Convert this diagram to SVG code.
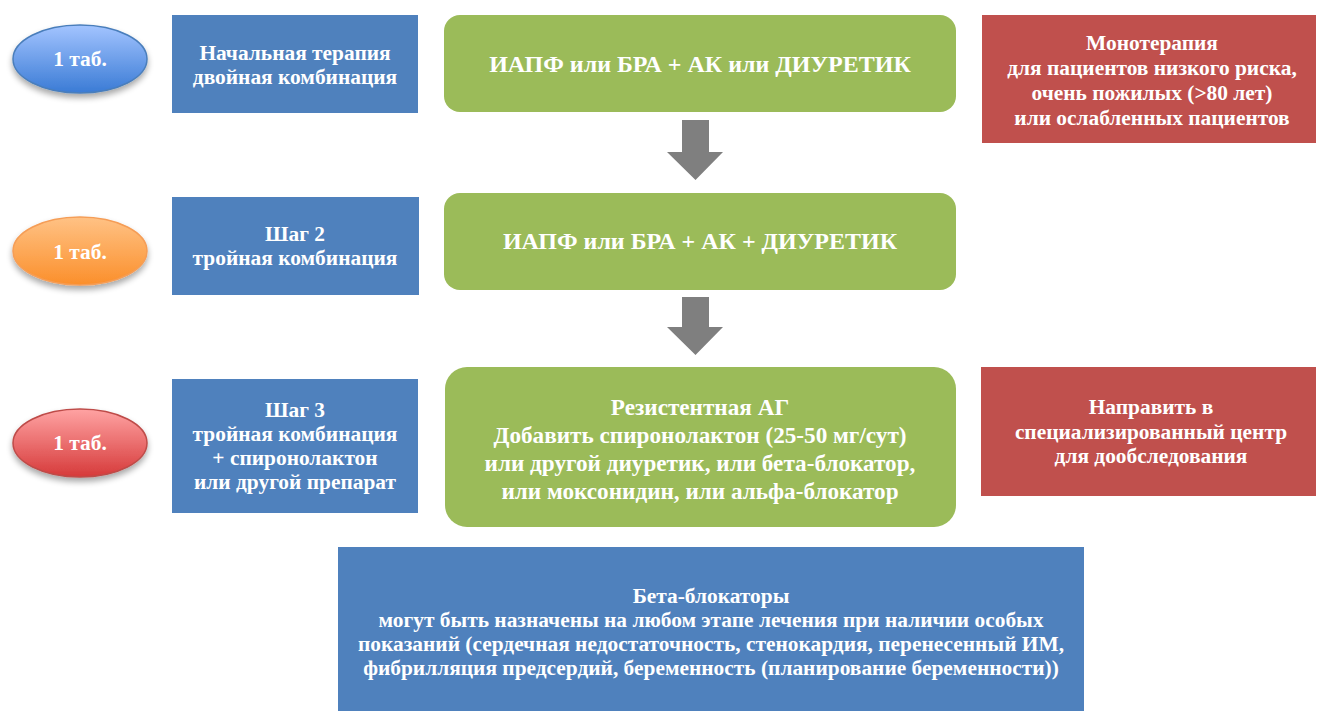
<svg xmlns="http://www.w3.org/2000/svg" width="1317" height="711" viewBox="0 0 1317 711">
<style>
.t{font-family:"Liberation Serif","Times New Roman",serif;font-weight:bold;fill:#ffffff;text-anchor:middle;font-size:21.4px}
.tg{font-size:24px}
.tr{font-size:23.2px}
.blue{fill:#4f81bd}
.green{fill:#9bbb59}
.red{fill:#c0504d}
.arr{fill:#7f7f7f}
</style>
<defs>
<linearGradient id="gB" x1="0" y1="0" x2="0" y2="1"><stop offset="0" stop-color="#a3c4ff"/><stop offset="1" stop-color="#3a7bd5"/></linearGradient>
<linearGradient id="gO" x1="0" y1="0" x2="0" y2="1"><stop offset="0" stop-color="#ffc285"/><stop offset="1" stop-color="#fb8f2b"/></linearGradient>
<linearGradient id="gR" x1="0" y1="0" x2="0" y2="1"><stop offset="0" stop-color="#ffa3a3"/><stop offset="1" stop-color="#d63a3a"/></linearGradient>
<filter id="sh" x="-20%" y="-20%" width="140%" height="160%"><feGaussianBlur in="SourceAlpha" stdDeviation="3"/><feOffset dx="0" dy="4"/><feComponentTransfer><feFuncA type="linear" slope="0.35"/></feComponentTransfer><feMerge><feMergeNode/><feMergeNode in="SourceGraphic"/></feMerge></filter>
</defs>
<rect width="1317" height="711" fill="#ffffff"/>

<g id="pill1"><ellipse cx="80" cy="59" rx="67" ry="34" fill="url(#gB)" stroke="#4a7ebb" stroke-width="1.5" filter="url(#sh)"/><text class="t" x="80" y="66">1 таб.</text></g>
<g id="pill2"><ellipse cx="80" cy="251" rx="67" ry="34" fill="url(#gO)" stroke="#f59d56" stroke-width="1.5" filter="url(#sh)"/><text class="t" x="80" y="259">1 таб.</text></g>
<g id="pill3"><ellipse cx="80" cy="443" rx="67" ry="34" fill="url(#gR)" stroke="#be4b48" stroke-width="1.5" filter="url(#sh)"/><text class="t" x="80" y="450">1 таб.</text></g>

<g id="step1"><rect class="blue" x="172" y="15" width="246" height="98"/><text class="t" x="295" y="60">Начальная терапия</text><text class="t" x="295" y="84">двойная комбинация</text></g>
<g id="step2"><rect class="blue" x="172" y="197" width="247" height="98"/><text class="t" x="295" y="241">Шаг 2</text><text class="t" x="295" y="265">тройная комбинация</text></g>
<g id="step3"><rect class="blue" x="172" y="379" width="246" height="134"/><text class="t" x="295" y="417">Шаг 3</text><text class="t" x="295" y="441">тройная комбинация</text><text class="t" x="295" y="465">+ спиронолактон</text><text class="t" x="295" y="489">или другой препарат</text></g>

<g id="combo2"><rect class="green" x="444" y="15" width="512" height="97" rx="16"/><text class="t tg" x="700" y="72">ИАПФ или БРА + АК или ДИУРЕТИК</text></g>
<g id="combo3"><rect class="green" x="444" y="193" width="512" height="97" rx="16"/><text class="t tg" x="700" y="249">ИАПФ или БРА + АК + ДИУРЕТИК</text></g>
<g id="resistant"><rect class="green" x="445" y="367" width="511" height="160" rx="22"/><text class="t tr" x="700" y="415">Резистентная АГ</text><text class="t tr" x="700" y="443">Добавить спиронолактон (25-50 мг/сут)</text><text class="t tr" x="700" y="471">или другой диуретик, или бета-блокатор,</text><text class="t tr" x="700" y="499">или моксонидин, или альфа-блокатор</text></g>

<g id="mono"><rect class="red" x="982" y="15" width="334" height="128"/><text class="t" x="1152" y="50">Монотерапия</text><text class="t" x="1152" y="75">для пациентов низкого риска,</text><text class="t" x="1152" y="100">очень пожилых (&gt;80 лет)</text><text class="t" x="1152" y="125">или ослабленных пациентов</text></g>
<g id="refer"><rect class="red" x="981" y="367" width="335" height="129"/><text class="t" x="1151" y="414">Направить в</text><text class="t" x="1151" y="439">специализированный центр</text><text class="t" x="1151" y="463">для дообследования</text></g>

<g id="beta"><rect class="blue" x="338" y="547" width="746" height="164"/><text class="t" x="711" y="603">Бета-блокаторы</text><text class="t" x="711" y="627">могут быть назначены на любом этапе лечения при наличии особых</text><text class="t" x="711" y="651">показаний (сердечная недостаточность, стенокардия, перенесенный ИМ,</text><text class="t" x="711" y="675">фибрилляция предсердий, беременность (планирование беременности))</text></g>

<g id="connectors">
<polygon class="arr" points="682,120 709,120 709,152 723,152 695.5,180 667,152 682,152"/>
<polygon class="arr" points="682,297 709,297 709,327 723,327 695.5,355 667,327 682,327"/>
</g>
</svg>
